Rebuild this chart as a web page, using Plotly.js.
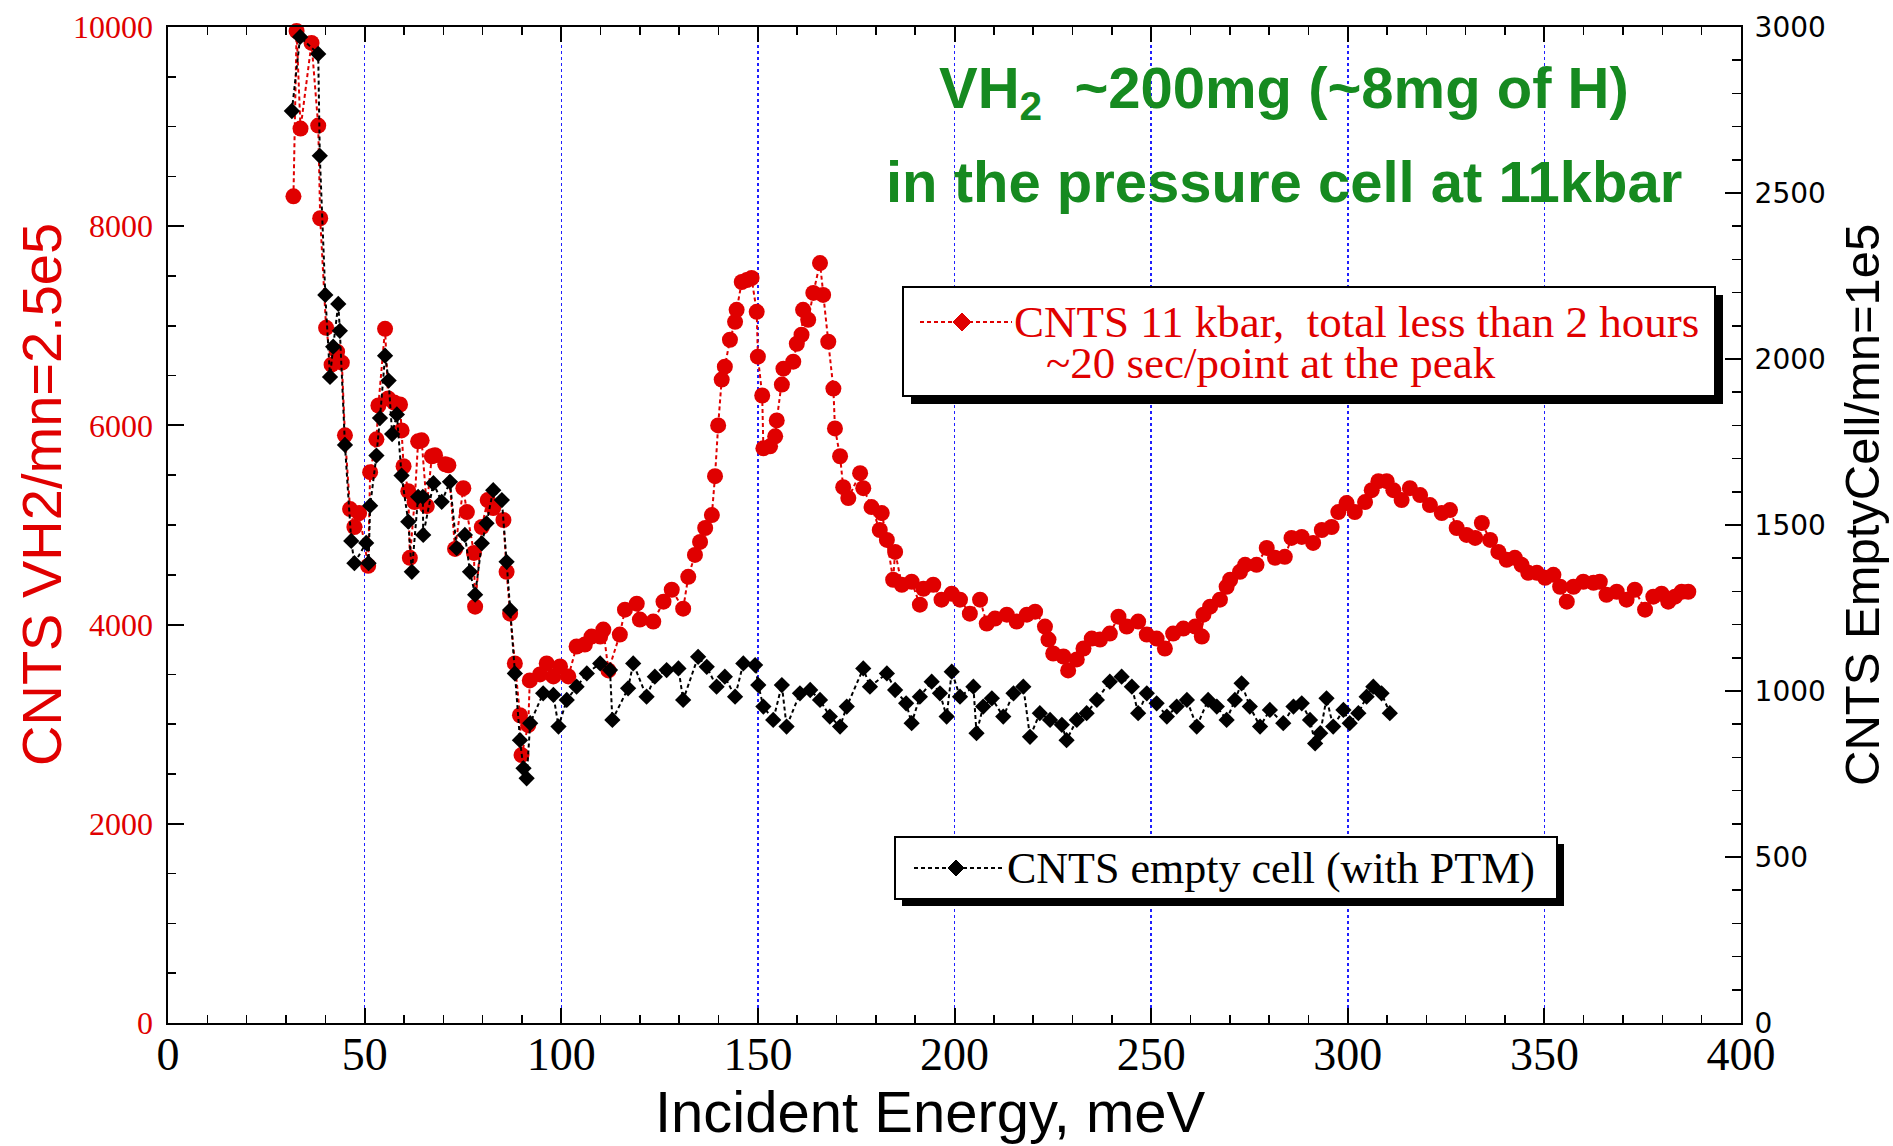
<!DOCTYPE html>
<html>
<head>
<meta charset="utf-8">
<title>VH2 in pressure cell, 11 kbar</title>
<script src="https://cdn.plot.ly/plotly-3.0.1.min.js"></script>
<style>
  html, body { margin: 0; padding: 0; background: #ffffff; }
  #plot { width: 1893px; height: 1146px; }
</style>
</head>
<body>
<div id="plot"></div>
<script>
// Incident energy scan, VH2 sample at 11 kbar (left axis, counts / mn=2.5e5)
const vh2Energy = [
  31.9, 32.7, 33.7, 36.5, 38.2, 38.7, 40.2, 41.6, 43.0, 44.2,
  45.0, 46.3, 47.4, 48.6, 50.9, 51.4, 53.0, 53.5, 55.2, 56.0,
  57.5, 59.0, 59.4, 59.9, 61.1, 61.5, 62.7, 63.6, 64.5, 65.8,
  67.1, 67.9, 70.5, 71.3, 73.0, 75.1, 76.0, 77.8, 78.1, 79.8,
  81.3, 82.7, 85.3, 86.1, 87.0, 88.2, 89.5, 89.9, 91.6, 92.0,
  94.6, 96.3, 98.0, 99.7, 101.8, 103.9, 106.0, 107.7, 109.9, 110.7,
  112.0, 114.9, 116.2, 119.2, 120.0, 123.4, 126.0, 128.1, 131.0, 132.3,
  134.0, 135.3, 136.6, 138.3, 139.1, 139.9, 140.8, 141.6, 142.9, 144.2,
  144.6, 145.9, 147.2, 148.4, 149.7, 150.0, 151.1, 151.4, 153.1, 154.4,
  154.8, 156.1, 156.5, 159.0, 159.9, 161.1, 161.5, 162.8, 164.1, 165.8,
  166.6, 167.9, 169.2, 169.6, 170.9, 171.7, 173.0, 176.0, 176.8, 178.9,
  181.0, 181.5, 182.8, 184.4, 184.9, 186.6, 189.1, 191.2, 192.1, 194.6,
  196.7, 199.3, 201.4, 203.9, 206.5, 208.2, 210.3, 213.3, 215.8, 218.4,
  220.5, 223.0, 223.9, 225.1, 227.7, 228.9, 231.1, 232.8, 234.9, 237.0,
  239.5, 241.7, 243.8, 246.7, 248.9, 251.4, 253.5, 255.6, 258.2, 261.2,
  262.9, 263.3, 265.0, 267.5, 269.2, 270.1, 272.6, 273.9, 276.8, 279.4,
  281.5, 284.0, 285.7, 288.3, 291.2, 293.4, 295.9, 297.6, 299.7, 301.8,
  304.4, 306.1, 307.8, 309.9, 311.6, 313.7, 315.8, 318.4, 320.9, 323.9,
  326.0, 327.7, 330.2, 332.4, 334.1, 336.2, 338.3, 340.4, 342.5, 344.2,
  345.9, 348.1, 350.2, 352.3, 354.0, 355.7, 357.4, 359.9, 362.5, 364.1,
  365.8, 368.4, 370.9, 373.0, 375.6, 377.7, 379.8, 381.5, 383.2, 384.9,
  386.6
];
const vh2Counts = [
  8300, 9960, 8980, 9840, 9010, 8080, 6980, 6610, 6740, 6630,
  5900, 5160, 4980, 5120, 4590, 5530, 5860, 6200, 6970, 6270,
  6230, 6210, 5950, 5590, 5340, 4670, 5230, 5840, 5850, 5190,
  5690, 5700, 5610, 5600, 4760, 5370, 5130, 4720, 4180, 4980,
  5250, 5170, 5050, 4530, 4110, 3610, 3090, 2690, 2990, 3440,
  3500, 3610, 3480, 3580, 3480, 3780, 3800, 3880, 3880, 3950,
  3540, 3900, 4150, 4210, 4050, 4030, 4230, 4350, 4160, 4480,
  4700, 4830, 4970, 5100, 5490, 6000, 6460, 6590, 6860, 7040,
  7160, 7440, 7460, 7480, 7140, 6690, 6300, 5770, 5790, 5890,
  6050, 6410, 6570, 6640, 6820, 6910, 7160, 7060, 7330, 7630,
  7310, 6840, 6370, 5970, 5690, 5380, 5270, 5520, 5370, 5180,
  4950, 5120, 4850, 4450, 4730, 4400, 4430, 4200, 4360, 4400,
  4250, 4310, 4250, 4110, 4250, 4010, 4060, 4100, 4030, 4100,
  4130, 3980, 3850, 3710, 3680, 3540, 3650, 3760, 3860, 3850,
  3910, 4080, 3980, 4030, 3900, 3860, 3760, 3910, 3960, 3980,
  3880, 4100, 4180, 4250, 4380, 4450, 4530, 4600, 4600, 4770,
  4670, 4680, 4870, 4880, 4820, 4950, 4980, 5130, 5220, 5130,
  5230, 5350, 5440, 5440, 5350, 5250, 5370, 5300, 5200, 5120,
  5150, 4970, 4900, 4870, 5020, 4850, 4730, 4650, 4670, 4600,
  4520, 4520, 4470, 4500, 4380, 4230, 4380, 4430, 4420, 4430,
  4300, 4330, 4250, 4350, 4150, 4280, 4310, 4230, 4280, 4330,
  4330
];

// Empty cell with PTM (right axis, counts / mn=1e5)
const emptyEnergy = [
  31.5, 33.6, 38.2, 38.6, 40.0, 41.2, 42.0, 43.3, 43.7, 45.0,
  46.6, 47.4, 50.4, 51.0, 51.4, 53.0, 53.9, 55.2, 56.1, 57.0,
  58.2, 59.4, 61.1, 62.0, 63.6, 64.8, 64.9, 67.5, 69.6, 71.7,
  73.4, 75.5, 76.8, 78.1, 79.8, 81.0, 82.7, 84.9, 86.1, 87.0,
  88.2, 89.5, 90.4, 91.2, 92.1, 95.4, 98.0, 99.3, 101.4, 103.9,
  106.5, 109.9, 112.4, 113.0, 117.0, 118.3, 121.7, 123.8, 126.8, 129.8,
  131.0, 134.8, 137.0, 139.5, 141.6, 144.2, 146.3, 149.3, 150.1, 151.4,
  153.9, 156.1, 157.3, 160.7, 163.3, 165.8, 168.3, 170.9, 172.6, 176.8,
  178.5, 182.8, 184.9, 187.7, 189.1, 191.2, 194.2, 196.3, 198.0, 199.3,
  201.4, 204.8, 205.6, 207.3, 209.5, 212.4, 215.0, 217.5, 219.2, 221.7,
  224.3, 227.3, 228.5, 231.1, 233.6, 236.2, 239.5, 242.5, 245.1, 246.7,
  248.9, 251.4, 254.0, 256.5, 259.1, 261.6, 264.5, 266.7, 269.2, 271.3,
  273.0, 275.1, 277.7, 280.2, 283.6, 286.2, 288.3, 290.4, 291.7, 293.0,
  294.6, 296.3, 298.9, 300.5, 302.7, 304.8, 306.5, 308.6, 310.7
];
const emptyCounts = [
  2747, 2970, 2919, 2612, 2193, 1946, 2037, 2166, 2085, 1741,
  1452, 1385, 1446, 1385, 1558, 1709, 1822, 2010, 1935, 1774,
  1833, 1649, 1510, 1359, 1585, 1585, 1470, 1626, 1570, 1630,
  1430, 1470, 1359, 1290, 1445, 1505, 1605, 1575, 1389, 1244,
  1053, 852, 767, 737, 903, 993, 988, 893, 973, 1013,
  1053, 1083, 1063, 913, 1008, 1083, 983, 1043, 1063, 1068,
  973, 1103, 1073, 1013, 1043, 983, 1083, 1078, 1018, 953,
  913, 1018, 893, 993, 1003, 973, 923, 893, 953, 1068,
  1013, 1053, 1003, 963, 903, 983, 1028, 993, 923, 1058,
  983, 1013, 873, 953, 978, 923, 993, 1013, 862, 933,
  913, 898, 852, 913, 933, 973, 1028, 1043, 1013, 933,
  993, 963, 923, 953, 973, 893, 973, 953, 913, 973,
  1023, 953, 893, 943, 903, 953, 963, 913, 842, 873,
  978, 893, 943, 903, 933, 983, 1013, 993, 933
];

const xTickVals = [0, 50, 100, 150, 200, 250, 300, 350, 400];
const yTickVals = [0, 2000, 4000, 6000, 8000, 10000];
const y2TickVals = [0, 500, 1000, 1500, 2000, 2500, 3000];

const RED = '#e00000';
const GREEN = '#168a20';
const SERIF = '"Liberation Serif", "Times New Roman", serif';
const SANS = '"Liberation Sans", Arial, Helvetica, sans-serif';
const NB = '\u00a0';

// Plot frame in page pixels; helpers turn pixels into paper fractions for decorations
const FW = 1893, FH = 1146;
const PL = 168, PR = 1741, PT = 27, PB = 1023;
const fx = p => (p - PL) / (PR - PL);
const fy = p => (PB - p) / (PB - PT);

const vh2Trace = {
  x: vh2Energy, y: vh2Counts, type: 'scatter', mode: 'lines+markers',
  name: 'CNTS 11 kbar', yaxis: 'y', cliponaxis: false,
  line: { color: RED, width: 2, dash: '4px,3px' },
  marker: { symbol: 'circle', size: 16, color: RED }
};
const emptyTrace = {
  x: emptyEnergy, y: emptyCounts, type: 'scatter', mode: 'lines+markers',
  name: 'CNTS empty cell (with PTM)', yaxis: 'y2', cliponaxis: false,
  line: { color: '#000000', width: 2, dash: '4px,3px' },
  marker: { symbol: 'diamond', size: 12.5, color: '#000000' }
};

// Legend boxes with drop shadow
function legendBox(x0, y0, x1, y1, off) {
  return [
    { type: 'rect', xref: 'paper', yref: 'paper', layer: 'above',
      x0: fx(x0 + off), x1: fx(x1 + off), y0: fy(y1 + off), y1: fy(y0 + off),
      fillcolor: '#000000', line: { width: 0 } },
    { type: 'rect', xref: 'paper', yref: 'paper', layer: 'above',
      x0: fx(x0), x1: fx(x1), y0: fy(y1), y1: fy(y0),
      fillcolor: '#ffffff', line: { color: '#000000', width: 2 } }
  ];
}
function legendSample(xa, xb, xm, yc, color, r) {
  const d = `M ${fx(xm - r)},${fy(yc)} L ${fx(xm)},${fy(yc - r)} L ${fx(xm + r)},${fy(yc)} L ${fx(xm)},${fy(yc + r)} Z`;
  return [
    { type: 'line', xref: 'paper', yref: 'paper', layer: 'above',
      x0: fx(xa), x1: fx(xb), y0: fy(yc), y1: fy(yc),
      line: { color: color, width: 2, dash: '4px,3px' } },
    { type: 'path', xref: 'paper', yref: 'paper', layer: 'above',
      path: d, fillcolor: color, line: { color: color, width: 1 } }
  ];
}

const shapes = [].concat(
  legendBox(903, 287, 1715, 396, 8),
  legendSample(920, 1012, 962, 322, RED, 9),
  legendBox(895, 837, 1557, 899, 7),
  legendSample(914, 1002, 956, 868, '#000000', 8)
);

const annotations = [
  // header text
  { xref: 'paper', yref: 'paper', x: fx(1284), y: fy(92), xanchor: 'center', yanchor: 'middle',
    showarrow: false, text: '<b>VH<sub>2</sub>' + NB + NB + '~200mg (~8mg of H)</b>',
    font: { family: SANS, size: 58, color: GREEN } },
  { xref: 'paper', yref: 'paper', x: fx(1284), y: fy(181), xanchor: 'center', yanchor: 'middle',
    showarrow: false, text: '<b>in the pressure cell at 11kbar</b>',
    font: { family: SANS, size: 58, color: GREEN } },
  // legend texts
  { xref: 'paper', yref: 'paper', x: fx(1012), y: fy(322), xanchor: 'left', yanchor: 'middle',
    showarrow: false, text: 'CNTS 11 kbar,' + NB + NB + 'total less than 2 hours',
    font: { family: SERIF, size: 45, color: RED } },
  { xref: 'paper', yref: 'paper', x: fx(1044), y: fy(363), xanchor: 'left', yanchor: 'middle',
    showarrow: false, text: '~20 sec/point at the peak',
    font: { family: SERIF, size: 45, color: RED } },
  { xref: 'paper', yref: 'paper', x: fx(1005), y: fy(868), xanchor: 'left', yanchor: 'middle',
    showarrow: false, text: 'CNTS empty cell (with PTM)',
    font: { family: SERIF, size: 44, color: '#000000' } },
  // axis titles
  { xref: 'paper', yref: 'paper', x: fx(930), y: fy(1111), xanchor: 'center', yanchor: 'middle',
    showarrow: false, text: 'Incident Energy, meV',
    font: { family: SANS, size: 58, color: '#000000' } },
  { xref: 'paper', yref: 'paper', x: fx(42), y: fy(495), xanchor: 'center', yanchor: 'middle',
    showarrow: false, textangle: -90, text: 'CNTS VH2/mn=2.5e5',
    font: { family: SANS, size: 56, color: RED } },
  { xref: 'paper', yref: 'paper', x: fx(1862), y: fy(505), xanchor: 'center', yanchor: 'middle',
    showarrow: false, textangle: -90, text: 'CNTS EmptyCell/mn=1e5',
    font: { family: SANS, size: 49, color: '#000000' } }
];

const layout = {
  width: FW, height: FH,
  margin: { l: PL, r: FW - PR, t: PT, b: FH - PB, pad: 0 },
  paper_bgcolor: '#ffffff', plot_bgcolor: '#ffffff',
  showlegend: false,
  xaxis: {
    range: [0, 400], tickvals: xTickVals, ticktext: xTickVals.map(String),
    ticks: 'inside', ticklen: 15, tickwidth: 2, tickcolor: '#000000',
    minor: { dtick: 10, tick0: 0, ticks: 'inside', ticklen: 8, tickwidth: 1.5, tickcolor: '#000000', showgrid: false },
    showline: true, linecolor: '#000000', linewidth: 2, mirror: 'ticks',
    showgrid: true, gridcolor: '#1f1fff', griddash: 'dot', gridwidth: 1.5,
    zeroline: false,
    tickfont: { family: SERIF, size: 46, color: '#000000' },
    ticklabelstandoff: -10
  },
  yaxis: {
    range: [0, 10000], tickvals: yTickVals, ticktext: yTickVals.map(String),
    ticks: 'inside', ticklen: 16, tickwidth: 2, tickcolor: '#000000',
    minor: { dtick: 500, tick0: 0, ticks: 'inside', ticklen: 8, tickwidth: 1.5, tickcolor: '#000000', showgrid: false },
    showline: true, linecolor: '#000000', linewidth: 2.5, mirror: false,
    showgrid: false, zeroline: false,
    tickfont: { family: SERIF, size: 32, color: RED },
    ticklabelstandoff: 6
  },
  yaxis2: {
    overlaying: 'y', side: 'right', anchor: 'x',
    range: [0, 3000], tickvals: y2TickVals, ticktext: y2TickVals.map(String),
    ticks: 'inside', ticklen: 16, tickwidth: 2, tickcolor: '#000000',
    minor: { dtick: 100, tick0: 0, ticks: 'inside', ticklen: 9, tickwidth: 1.5, tickcolor: '#000000', showgrid: false },
    showline: true, linecolor: '#000000', linewidth: 2,
    showgrid: false, zeroline: false,
    tickfont: { family: '"DejaVu Sans", Verdana, sans-serif', size: 28, color: '#000000' },
    ticklabelstandoff: 6
  },
  shapes: shapes,
  annotations: annotations
};

Plotly.newPlot('plot', [vh2Trace, emptyTrace], layout, { staticPlot: true, displayModeBar: false });
</script>
</body>
</html>
